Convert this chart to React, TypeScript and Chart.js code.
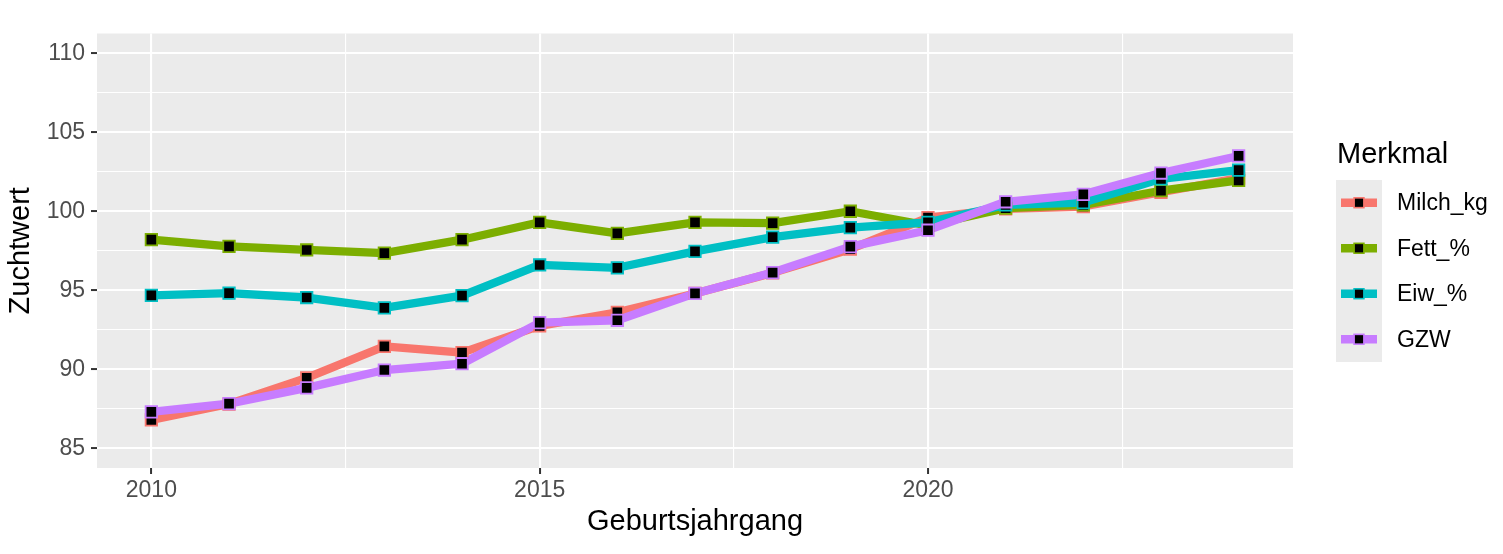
import { useEffect, useRef } from "react";
import { Chart, registerables } from "chart.js";

Chart.register(...registerables);

const years = [2010, 2011, 2012, 2013, 2014, 2015, 2016, 2017, 2018, 2019, 2020, 2021, 2022, 2023, 2024];

const milchKg = [86.8, 87.8, 89.45, 91.45, 91.05, 92.75, 93.6, 94.8, 96.1, 97.6, 99.6, 100.15, 100.3, 101.2, 102.1];
const fettPct = [98.2, 97.78, 97.55, 97.35, 98.2, 99.3, 98.6, 99.3, 99.25, 100.0, 99.1, 100.2, 100.4, 101.3, 101.95];
const eiwPct = [94.68, 94.82, 94.54, 93.88, 94.66, 96.6, 96.42, 97.46, 98.36, 98.96, 99.3, 100.4, 100.55, 102.05, 102.6];
const gzw = [87.3, 87.82, 88.82, 89.95, 90.35, 92.95, 93.1, 94.8, 96.12, 97.76, 98.8, 100.6, 101.07, 102.42, 103.5];

const seriesNames = ["Milch_kg", "Fett_%", "Eiw_%", "GZW"];
const seriesValues = [milchKg, fettPct, eiwPct, gzw];
const seriesColors = ["#F8766D", "#7CAE00", "#00BFC4", "#C77CFF"];

const xMajorTicks = [2010, 2015, 2020];
const xMinorTicks = [2012.5, 2017.5, 2022.5];
const yMajorTicks = [85, 90, 95, 100, 105, 110];
const yMinorTicks = [87.5, 92.5, 97.5, 102.5, 107.5];

const FONT = '"Liberation Sans", Arial, sans-serif';

// grey panel behind the grid
const panelPlugin = {
  id: "panelBg",
  beforeDraw(chart: any) {
    const { ctx, chartArea } = chart;
    ctx.save();
    ctx.fillStyle = "#EBEBEB";
    ctx.fillRect(chartArea.left, chartArea.top, chartArea.right - chartArea.left, chartArea.bottom - chartArea.top);
    ctx.restore();
  },
};

// ggplot style legend on the right
const legendPlugin = {
  id: "ggLegend",
  afterDraw(chart: any) {
    const ctx = chart.ctx;
    ctx.save();
    ctx.fillStyle = "#000000";
    ctx.font = `29px ${FONT}`;
    ctx.textBaseline = "alphabetic";
    ctx.textAlign = "left";
    ctx.fillText("Merkmal", 1337, 163);

    const keyTop = 180;
    const keyH = 45.5;
    ctx.fillStyle = "#EBEBEB";
    ctx.fillRect(1336, keyTop, 46, keyH * seriesNames.length);

    seriesNames.forEach((name, i) => {
      const cy = keyTop + keyH * i + keyH / 2;
      ctx.strokeStyle = seriesColors[i];
      ctx.lineWidth = 8.3;
      ctx.lineCap = "butt";
      ctx.beginPath();
      ctx.moveTo(1341, cy);
      ctx.lineTo(1377, cy);
      ctx.stroke();

      ctx.fillStyle = "#000000";
      ctx.fillRect(1359 - 4.9, cy - 4.9, 9.8, 9.8);
      ctx.lineWidth = 1.6;
      ctx.strokeRect(1359 - 4.9, cy - 4.9, 9.8, 9.8);

      ctx.fillStyle = "#000000";
      ctx.font = `23px ${FONT}`;
      ctx.textBaseline = "middle";
      ctx.fillText(name, 1397, cy + 1);
    });
    ctx.restore();
  },
};

export default function App() {
  const chartRef = useRef<HTMLCanvasElement>(null);
  const chartInstance = useRef<Chart | null>(null);

  useEffect(() => {
    document.body.style.margin = "0";
    if (!chartRef.current) return;
    const ctx = chartRef.current.getContext("2d");
    if (!ctx) return;

    if (chartInstance.current) {
      chartInstance.current.destroy();
    }

    Chart.defaults.font.family = FONT;

    const lineSets = seriesValues.map((vals, i) => ({
      label: seriesNames[i] + " line",
      data: years.map((x, j) => ({ x, y: vals[j] })),
      borderColor: seriesColors[i],
      backgroundColor: seriesColors[i],
      borderWidth: 8.3,
      borderJoinStyle: "round" as const,
      borderCapStyle: "butt" as const,
      pointRadius: 0,
      tension: 0,
      order: 8 - i,
    }));

    const pointSets = seriesValues.map((vals, i) => ({
      label: seriesNames[i],
      data: years.map((x, j) => ({ x, y: vals[j] })),
      showLine: false,
      pointStyle: "rect" as const,
      pointRadius: 8.1,
      pointBackgroundColor: "#000000",
      pointBorderColor: seriesColors[i],
      pointBorderWidth: 1.8,
      order: 4 - i,
    }));

    const isMinor = (list: number[], v: number) => list.includes(v);

    chartInstance.current = new Chart(ctx, {
      type: "line",
      data: { datasets: [...lineSets, ...pointSets] as any },
      plugins: [panelPlugin, legendPlugin],
      options: {
        animation: false,
        responsive: true,
        maintainAspectRatio: false,
        layout: { padding: { top: 33.5, right: 210, left: 0, bottom: 0 } },
        plugins: {
          legend: { display: false },
          tooltip: { enabled: false },
        },
        scales: {
          x: {
            type: "linear",
            min: 2009.3,
            max: 2024.7,
            afterBuildTicks: (axis: any) => {
              axis.ticks = [...xMajorTicks, ...xMinorTicks].sort((a, b) => a - b).map((v) => ({ value: v }));
            },
            afterFit: (axis: any) => {
              axis.height = 86;
            },
            ticks: {
              autoSkip: false,
              maxRotation: 0,
              padding: 3,
              color: "#4D4D4D",
              font: { size: 23 },
              callback: (v: any) => (isMinor(xMinorTicks, v) ? "" : String(v)),
            },
            grid: {
              color: "#FFFFFF",
              lineWidth: (c: any) => (isMinor(xMinorTicks, c.tick?.value) ? 1.1 : 2.1),
              tickColor: (c: any) => (isMinor(xMinorTicks, c.tick?.value) ? "rgba(0,0,0,0)" : "#333333"),
              tickLength: 6,
              tickWidth: 2,
            },
            border: { display: false },
            title: {
              display: true,
              text: "Geburtsjahrgang",
              color: "#000000",
              font: { size: 29 },
              padding: { top: 0, bottom: 15 },
            },
          },
          y: {
            type: "linear",
            min: 83.75,
            max: 111.25,
            afterBuildTicks: (axis: any) => {
              axis.ticks = [...yMajorTicks, ...yMinorTicks].sort((a, b) => a - b).map((v) => ({ value: v }));
            },
            afterFit: (axis: any) => {
              axis.width = 97;
            },
            ticks: {
              autoSkip: false,
              padding: 6,
              color: "#4D4D4D",
              font: { size: 23 },
              callback: (v: any) => (isMinor(yMinorTicks, v) ? "" : String(v)),
            },
            grid: {
              color: "#FFFFFF",
              lineWidth: (c: any) => (isMinor(yMinorTicks, c.tick?.value) ? 1.1 : 2.1),
              tickColor: (c: any) => (isMinor(yMinorTicks, c.tick?.value) ? "rgba(0,0,0,0)" : "#333333"),
              tickLength: 6,
              tickWidth: 2,
            },
            border: { display: false },
            title: {
              display: true,
              text: "Zuchtwert",
              color: "#000000",
              font: { size: 29 },
              padding: { top: 4, bottom: 0 },
            },
          },
        },
      },
    });

    return () => {
      if (chartInstance.current) {
        chartInstance.current.destroy();
        chartInstance.current = null;
      }
    };
  }, []);

  return (
    <div style={{ position: "relative", width: "1503px", height: "554px", background: "#FFFFFF" }}>
      <canvas ref={chartRef}></canvas>
    </div>
  );
}
